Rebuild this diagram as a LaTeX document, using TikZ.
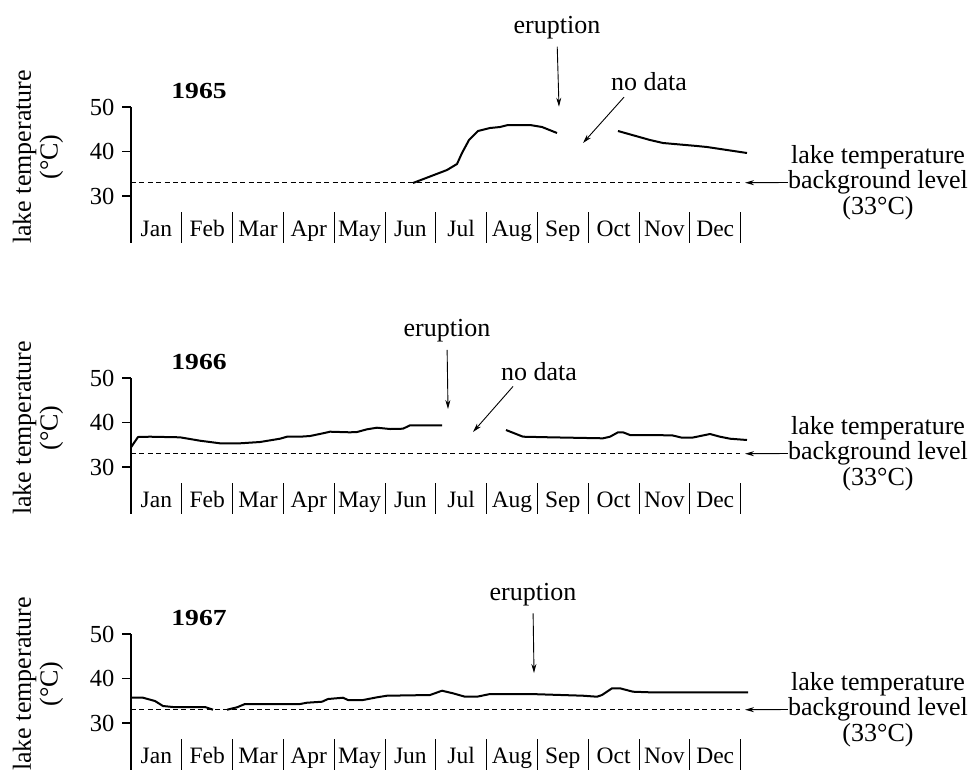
\documentclass[tikz,border=0pt]{standalone}
\usepackage{fontspec}
\setmainfont{Liberation Serif}
\newfontfamily\yrfont[FakeStretch=1.2]{Liberation Serif}
\usetikzlibrary{arrows.meta}
\begin{document}
\begin{tikzpicture}[x=1pt,y=-1pt,
  txt/.style={inner sep=0pt,font=\fontsize{26}{25.5}\selectfont},
  month/.style={inner sep=0pt,anchor=base,font=\fontsize{23.5}{24}\selectfont},
  num/.style={inner sep=0pt,font=\fontsize{24.5}{24}\selectfont},
  year/.style={inner sep=0pt,anchor=base,font=\yrfont\bfseries\fontsize{23}{23}\selectfont},
  axis/.style={line width=1.3pt},
  sep/.style={line width=1pt},
  base/.style={line width=0.8pt,dash pattern=on 5pt off 3.4pt},
  temp/.style={line width=2pt,line join=round},
  arr/.style={line width=0.9pt,-{Stealth[length=9pt,width=5pt]}}]
\useasboundingbox (0,0) rectangle (976,772);

\foreach \yr/\dy in {1965/0,1966/271,1967/527}{
\begin{scope}[shift={(0,\dy)}]
  \draw[axis] (131,107) -- (131,243);
  \foreach \t/\v in {50/107,40/151.5,30/196}{
    \draw[axis] (122,\v) -- (131,\v);
    \node[num,anchor=east] (tk\yr\t) at (114.5,\v) {\t};
  }
  \foreach \m [count=\i] in {Jan,Feb,Mar,Apr,May,Jun,Jul,Aug,Sep,Oct,Nov,Dec}{
    \node[month] (m\yr\i) at ({131+50.8*\i-25.4},236) {\m};
    \draw[sep] ({131+50.8*\i},212) -- ++(0,31);
  }
  \node[year] (yr\yr) at (199,98.3) {\yr};
  \node[txt,rotate=90,align=center,font=\fontsize{26}{26.7}\selectfont] (yl\yr) at (38,157) {lake temperature\\(°C)};
  \draw[base] (131,182.7) -- (740,182.7);
  \node[txt,align=center] (bg\yr) at (878,182.5) {lake temperature\\background level\\(33°C)};
  \coordinate (bt\yr) at (745,182.7);
  \draw[arr] (bg\yr.west) -- (bt\yr);
\end{scope}
}

\begin{scope}
  \draw[temp] plot coordinates {(413,183) (447,170) (457,164) (462,153) (469,140) (478,131)
    (490,128) (500,127) (508,125) (530,125) (542,127) (557,133)};
  \draw[temp] plot coordinates {(618,131) (650,140) (663,143) (697,146) (707,147) (747,153)};
  \node[txt,anchor=base] (er65) at (557,33.5) {eruption};
  \coordinate (et65) at (559,106.7);
  \draw[arr,shorten <=7.5pt] (er65.south) -- (et65);
  \node[txt,anchor=base] (nd65) at (649,90.7) {no data};
  \coordinate (nt65) at (583,143);
  \draw[arr] ([xshift=-25pt,yshift=-6pt]nd65.south) -- (nt65);
\end{scope}

\begin{scope}[shift={(0,271)}]
  \draw[temp] plot coordinates {(131,176.3) (138,166) (150,165.7) (180,166.3) (200,169.7)
    (220,172.3) (240,172.3) (260,171) (280,167.7) (287,165.7) (300,165.7) (310,165)
    (323,162.3) (330,160.7) (350,161.3) (357,161) (367,158.3) (377,156.7) (390,158)
    (403,157.7) (410,154.3) (442,154.3)};
  \draw[temp] plot coordinates {(506,159) (523,165.7) (550,166.3) (603,167.3) (610,165.7)
    (618,161.3) (623,161.3) (630,164) (672,164.3) (682,166.7) (692,166.7) (710,163)
    (720,165.7) (730,167.7) (747,169)};
  \node[txt,anchor=base] (er66) at (447,65.7) {eruption};
  \coordinate (et66) at (448,138);
  \draw[arr,shorten <=7.5pt] (er66.south) -- (et66);
  \node[txt,anchor=base] (nd66) at (539,109) {no data};
  \coordinate (nt66) at (473,161);
  \draw[arr] ([xshift=-26pt,yshift=-6pt]nd66.south) -- (nt66);
\end{scope}

\begin{scope}[shift={(0,527)}]
  \draw[temp] plot coordinates {(131,170.7) (143,170.7) (155,174) (163,179) (173,180)
    (205,180) (213,182.7)};
  \draw[temp] plot coordinates {(227,182.7) (237,180.3) (245,177) (300,177) (307,175.7)
    (322,174.7) (328,172) (343,170.7) (348,173) (363,173) (377,170.3) (387,168.7)
    (430,168) (442,163.7) (453,166.3) (465,169.7) (477,169.7) (490,167) (530,167)
    (583,168.7) (597,169.7) (602,168) (612,161.3) (620,161.3) (633,164.7) (650,165.3)
    (748,165.3)};
  \node[txt,anchor=base] (er67) at (533,73.7) {eruption};
  \coordinate (et67) at (534,146);
  \draw[arr,shorten <=7pt] (er67.south) -- (et67);
\end{scope}
\end{tikzpicture}
\end{document}
